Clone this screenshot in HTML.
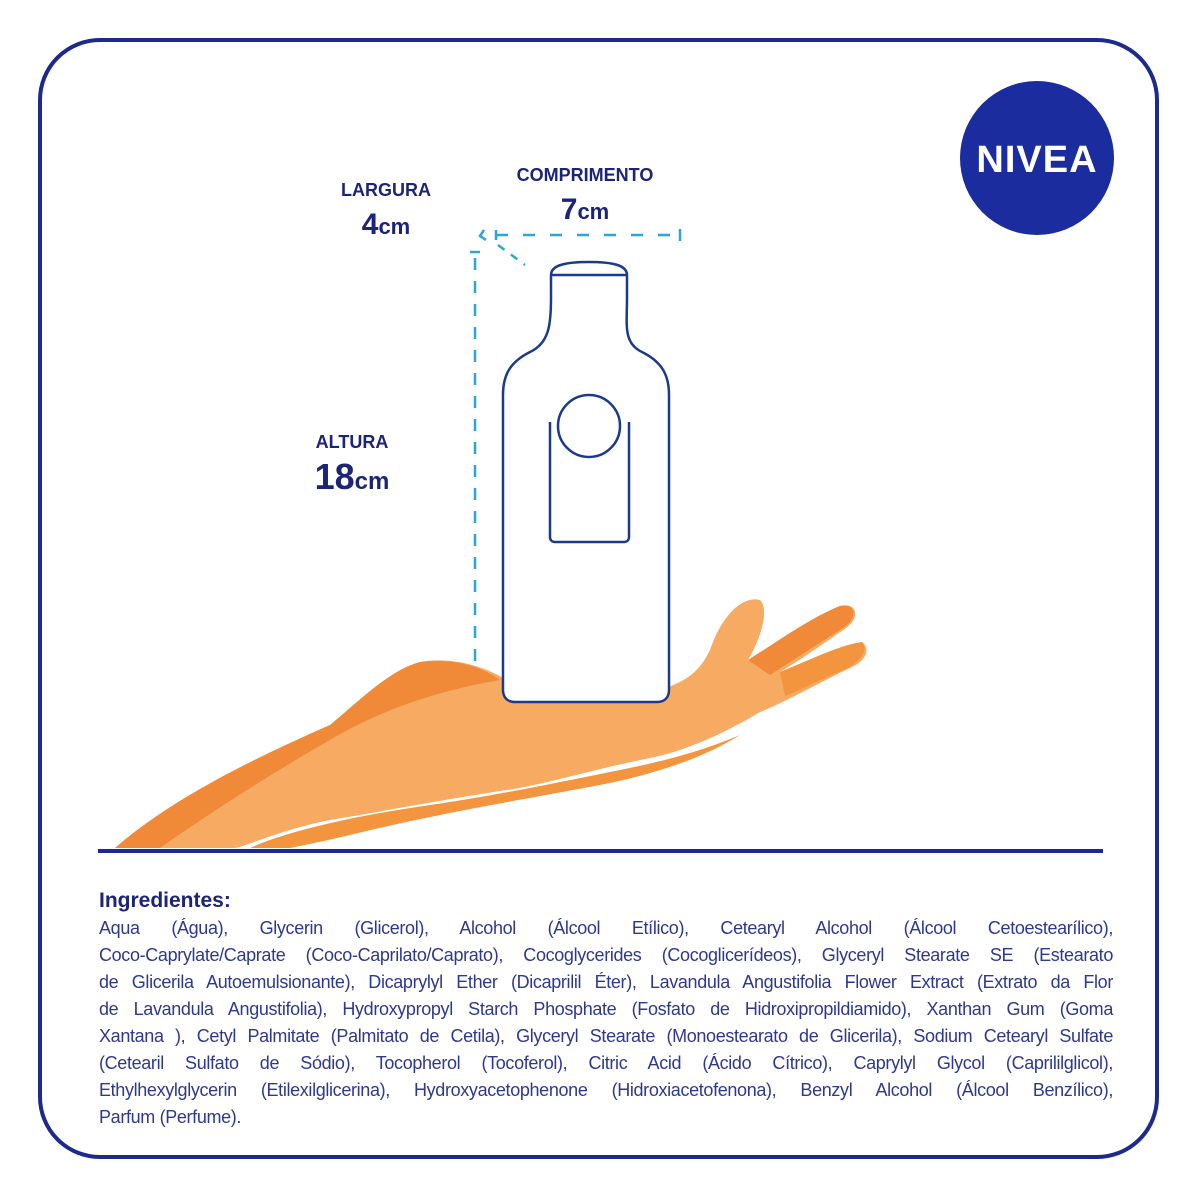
<!DOCTYPE html>
<html><head><meta charset="utf-8"><style>
html,body{margin:0;padding:0;background:#fff;}
body{width:1200px;height:1200px;position:relative;overflow:hidden;font-family:"Liberation Sans",sans-serif;}
.frame{position:absolute;left:38px;top:38px;width:1121px;height:1121px;border:4px solid #1c2a8c;border-radius:62px;box-sizing:border-box;}
.lbl{position:absolute;color:#1c2478;font-weight:bold;text-align:center;}
.ing{position:absolute;left:99px;width:1014px;top:886px;color:#2e3890;}
.ing h3{margin:0;font-size:21px;font-weight:bold;color:#1c2478;height:29px;line-height:29px;}
.ing .l{font-size:18px;letter-spacing:-0.35px;line-height:27px;height:27px;text-align:justify;text-align-last:justify;white-space:nowrap;overflow:visible;}
.ing .l.last{text-align-last:left;}
</style></head><body>
<div class="frame"></div>
<svg width="1200" height="1200" style="position:absolute;left:0;top:0">
  <circle cx="1037" cy="158" r="77" fill="#1b2c9e"/>
  <text x="1037" y="172" text-anchor="middle" font-family="Liberation Sans, sans-serif" font-weight="bold" font-size="38" fill="#fff" letter-spacing="1">NIVEA</text>
  <!-- hand -->
  <path d="M115 848 C170 800 250 760 330 725 C360 700 390 670 420 662 C460 655 500 672 520 690 L660 690 C690 680 700 670 710 650 C720 620 740 595 760 600 C770 610 760 640 748 660 C780 640 810 618 840 606 C858 602 860 618 846 628 C820 646 800 660 780 672 C810 660 840 645 862 642 C870 648 868 660 850 668 C820 682 790 700 760 712 C730 730 690 750 650 758 C600 768 560 780 520 788 C440 800 380 812 330 820 C280 830 250 845 235 848 Z" fill="#f7aa62"/>
  <path d="M115 848 C170 800 250 760 330 725 C360 700 390 670 420 662 C450 658 480 665 500 680 C440 690 380 710 330 740 C260 780 200 820 160 848 Z" fill="#f08a38"/>
  <path d="M250 848 C290 830 360 815 430 805 C500 795 570 780 620 770 C660 762 700 752 740 735 C700 760 650 775 600 785 C520 800 430 815 350 835 C320 842 300 846 290 848 Z" fill="#f3953f"/>
  <path d="M748 660 C780 640 810 618 840 606 C855 603 858 616 846 626 C815 646 790 662 770 675 Z" fill="#f08a38"/>
  <path d="M780 672 C810 660 840 645 862 642 C868 650 862 660 848 668 C820 680 800 690 785 696 Z" fill="#f3953f"/>
  <!-- bottle -->
  <path d="M551 275 L551 298 C551 325 549 343 530 352 C510 362 503 375 503 395 L503 690 C503 698 508 702 515 702 L657 702 C664 702 669 698 669 690 L669 395 C669 375 662 362 642 352 C623 343 627 325 627 298 L627 275 C627 265 612 262 589 262 C566 262 551 265 551 275 Z" fill="#fff" stroke="#1c3a8c" stroke-width="2.5"/>
  <line x1="551" y1="275" x2="627" y2="275" stroke="#1c3a8c" stroke-width="2.5"/>
  <path d="M550 422 L550 537 C550 540 552 542 555 542 L624 542 C627 542 629 540 629 537 L629 422" fill="none" stroke="#1c3a8c" stroke-width="2.5"/>
  <circle cx="589" cy="426" r="31" fill="#fff" stroke="#1c3a8c" stroke-width="2.5"/>
  <!-- dims -->
  <g stroke="#2aa6d8" stroke-width="2.5" fill="none">
    <line x1="475" y1="258" x2="475" y2="662" stroke-dasharray="12 11"/>
    <line x1="470" y1="252" x2="480" y2="252"/>
    <line x1="496" y1="235" x2="680" y2="235" stroke-dasharray="12 15"/>
    <line x1="496" y1="230" x2="496" y2="240"/>
    <line x1="680" y1="229" x2="680" y2="241"/>
    <line x1="498" y1="245" x2="525" y2="265" stroke-dasharray="8 8"/>
    <path d="M484 230 L480 236 L486 240"/>
  </g>
</svg>
<div class="lbl" style="left:330px;top:180px;width:112px;font-size:18px;">LARGURA</div>
<div class="lbl" style="left:330px;top:208px;width:112px;font-size:30px;">4<span style="font-size:22px">cm</span></div>
<div class="lbl" style="left:495px;top:165px;width:180px;font-size:18px;">COMPRIMENTO</div>
<div class="lbl" style="left:495px;top:193px;width:180px;font-size:30px;">7<span style="font-size:22px">cm</span></div>
<div class="lbl" style="left:300px;top:432px;width:104px;font-size:18px;">ALTURA</div>
<div class="lbl" style="left:300px;top:456px;width:104px;font-size:36px;">18<span style="font-size:24px">cm</span></div>
<div style="position:absolute;left:98px;top:849px;width:1005px;height:4px;background:#1c2a8c;"></div>
<div class="ing">
<h3>Ingredientes:</h3>
<div class="l">Aqua (Água), Glycerin (Glicerol), Alcohol (Álcool Etílico), Cetearyl Alcohol (Álcool Cetoestearílico),</div>
<div class="l">Coco-Caprylate/Caprate (Coco-Caprilato/Caprato), Cocoglycerides (Cocoglicerídeos), Glyceryl Stearate SE (Estearato</div>
<div class="l">de Glicerila Autoemulsionante), Dicaprylyl Ether (Dicaprilil Éter), Lavandula Angustifolia Flower Extract (Extrato da Flor</div>
<div class="l">de Lavandula Angustifolia), Hydroxypropyl Starch Phosphate (Fosfato de Hidroxipropildiamido), Xanthan Gum (Goma</div>
<div class="l">Xantana ), Cetyl Palmitate (Palmitato de Cetila), Glyceryl Stearate (Monoestearato de Glicerila), Sodium Cetearyl Sulfate</div>
<div class="l">(Cetearil Sulfato de Sódio), Tocopherol (Tocoferol), Citric Acid (Ácido Cítrico), Caprylyl Glycol (Caprililglicol),</div>
<div class="l">Ethylhexylglycerin (Etilexilglicerina), Hydroxyacetophenone (Hidroxiacetofenona), Benzyl Alcohol (Álcool Benzílico),</div>
<div class="l last">Parfum (Perfume).</div>
</div>
</body></html>
